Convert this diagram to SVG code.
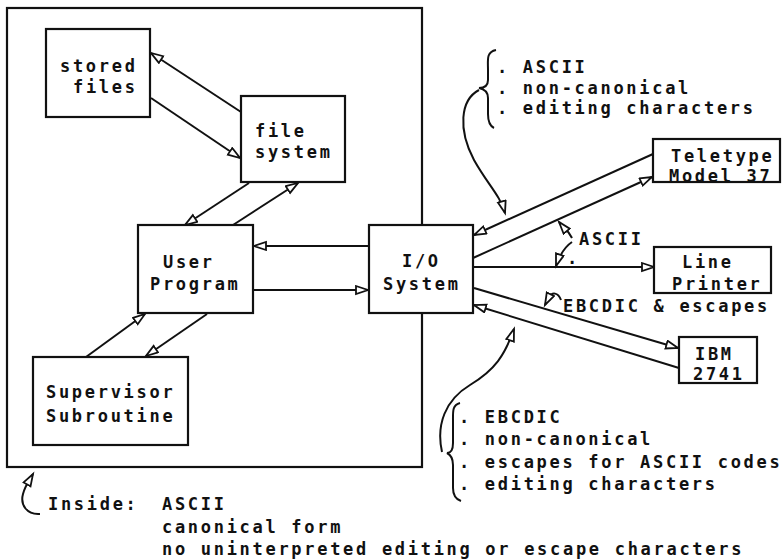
<svg xmlns="http://www.w3.org/2000/svg" width="784" height="560" viewBox="0 0 784 560">
<style>
.b{fill:#fff;stroke:#111;stroke-width:2.2}
.t{font-family:"DejaVu Sans Mono","Liberation Mono",monospace;font-weight:bold;font-size:17px;letter-spacing:2.7px;fill:#111}
.c{fill:none;stroke:#111;stroke-width:2;marker-end:url(#ah)}
.n{fill:none;stroke:#111;stroke-width:2}
</style>
<defs>
<marker id="ah" markerUnits="userSpaceOnUse" markerWidth="16" markerHeight="12" refX="13" refY="5" orient="auto">
<path d="M1,1 L13,5 L1,9 Z" fill="#fff" stroke="#111" stroke-width="1.8"/>
</marker>
</defs>
<rect width="784" height="560" fill="#fff"/>
<g id="inside"><rect x="7" y="8" width="415" height="459" fill="none" stroke="#111" stroke-width="2.2"/></g>
<g id="connectors">
<path class="c" d="M241,112 L151,53"/>
<path class="c" d="M151,98 L240,158"/>
<path class="c" d="M249,183 L185,225"/>
<path class="c" d="M233,225 L298,183"/>
<path class="c" d="M369,246 L254,246"/>
<path class="c" d="M254,290 L368,290"/>
<path class="c" d="M86,357 L145,314"/>
<path class="c" d="M207,314 L146,356"/>
<path class="c" d="M653,154 L474,235"/>
<path class="c" d="M473,258 L652,177"/>
<path class="c" d="M473,267 L654,267"/>
<path class="c" d="M474,288 L678,348"/>
<path class="c" d="M679,368 L474,305"/>
<path class="c" d="M479,90 C460,100 458,130 474,160 C488,185 500,195 505,213"/>
<path class="c" d="M442,452 C436,425 445,400 470,385 C495,370 505,355 514,329"/>
<path class="c" d="M40,514 C27,515 20,505 23,494 C25,486 29,481 33,474"/>
<path class="c" d="M572,238 C568,230 564,228 559,222"/>
<path class="c" d="M572,242 C566,246 560,254 556,266"/>
<path class="c" d="M561,300 C558,292 552,292 549,297 L545,305"/>
<path class="n" d="M496,50 C486,52 488,60 488,70 L488,80 C488,86 484,88 479,88 C484,89 488,92 488,98 L488,114 C488,122 490,126 494,128"/>
<path class="n" d="M460,403 C452,405 453,412 453,422 L453,443 C453,450 451,453 447,453 C451,455 453,458 453,465 L453,488 C453,495 455,499 461,501"/>
</g>
<g id="stored-files"><rect class="b" x="46" y="29" width="104" height="88"/><text class="t" x="60" y="72">stored</text><text class="t" x="73" y="93">files</text></g>
<g id="file-system"><rect class="b" x="241" y="96" width="104" height="86"/><text class="t" x="255" y="137">file</text><text class="t" x="255" y="158">system</text></g>
<g id="user-program"><rect class="b" x="138" y="225" width="115" height="88"/><text class="t" x="163" y="268">User</text><text class="t" x="150" y="290">Program</text></g>
<g id="io-system"><rect class="b" x="369" y="225" width="104" height="88"/><text class="t" x="402" y="267">I/O</text><text class="t" x="383" y="290">System</text></g>
<g id="supervisor"><rect class="b" x="33" y="357" width="155" height="88"/><text class="t" x="46" y="398">Supervisor</text><text class="t" x="46" y="422">Subroutine</text></g>
<g id="teletype"><rect class="b" x="653" y="139" width="127" height="43"/><text class="t" x="671" y="162">Teletype</text><text class="t" x="669" y="182">Model 37</text></g>
<g id="line-printer"><rect class="b" x="654" y="247" width="117" height="46"/><text class="t" x="682" y="268">Line</text><text class="t" x="672" y="290">Printer</text></g>
<g id="ibm"><rect class="b" x="679" y="337" width="78" height="46"/><text class="t" x="695" y="360">IBM</text><text class="t" x="693" y="380">2741</text></g>
<g id="labels">
<text class="t" x="497" y="73">. ASCII</text>
<text class="t" x="497" y="94">. non-canonical</text>
<text class="t" x="497" y="114">. editing characters</text>
<text class="t" x="579" y="245">ASCII</text>
<text class="t" x="567" y="264">.</text>
<text class="t" x="563" y="312">EBCDIC &amp; escapes</text>
<text class="t" x="459" y="423">. EBCDIC</text>
<text class="t" x="459" y="445">. non-canonical</text>
<text class="t" x="459" y="468">. escapes for ASCII codes</text>
<text class="t" x="459" y="490">. editing characters</text>
<text class="t" x="48" y="510">Inside:</text>
<text class="t" x="162" y="510">ASCII</text>
<text class="t" x="162" y="533">canonical form</text>
<text class="t" x="162" y="555">no uninterpreted editing or escape characters</text>
</g>
</svg>
